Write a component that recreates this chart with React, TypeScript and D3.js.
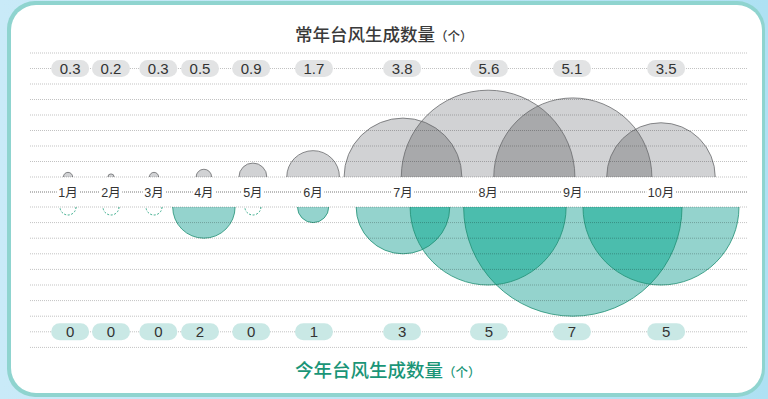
import React, { useEffect, useRef } from 'react';
import * as d3 from 'd3';

// data
const months = ['1月', '2月', '3月', '4月', '5月', '6月', '7月', '8月', '9月', '10月'];
const normalCounts = [0.3, 0.2, 0.3, 0.5, 0.9, 1.7, 3.8, 5.6, 5.1, 3.5];
const thisYearCounts = [0, 0, 0, 2, 0, 1, 3, 5, 7, 5];
const normalLabels = ['0.3', '0.2', '0.3', '0.5', '0.9', '1.7', '3.8', '5.6', '5.1', '3.5'];
const thisYearLabels = ['0', '0', '0', '2', '0', '1', '3', '5', '7', '5'];
const topTitle = '常年台风生成数量';
const bottomTitle = '今年台风生成数量';
const unitText = '（个）';

// layout: horizontal slot of each month (months are spaced unevenly)
const monthSlot = [0, 1, 2, 3.16, 4.3, 5.7, 7.79, 9.77, 11.74, 13.79];
const pillSlot = [0.05, 1, 2.1, 3.07, 4.26, 5.72, 7.77, 9.79, 11.72, 13.91];

const W = 768;
const H = 399;
const FONT = "'Liberation Sans', 'Noto Sans CJK SC', sans-serif";
const CJK = "'Noto Sans CJK SC', sans-serif";

export default function App() {
    const ref = useRef<SVGSVGElement>(null);

    useEffect(() => {
        draw(ref.current as SVGSVGElement);
    }, []);

    return (
        <svg ref={ref} width={W} height={H} style={{ position: 'absolute', left: 0, top: 0 }} />
    );
}

const draw = (node: SVGSVGElement) => {
    const svg = d3.select(node);
    svg.selectAll('*').remove();

    const x = d3.scaleLinear().domain([0, 1]).range([68, 111]);
    const yTop = d3.scaleLinear().domain([0, 8]).range([177, 53]);
    const yBot = d3.scaleLinear().domain([0, 9]).range([207, 347.4]);
    const rTop = (v: number) => yTop(0) - yTop(v);
    const rBot = (v: number) => yBot(v) - yBot(0);
    const gridX0 = 30;
    const gridX1 = 747;

    const defs = svg.append('defs');
    const grad = defs.append('linearGradient').attr('id', 'bg').attr('x1', 0).attr('x2', 1).attr('y1', 0).attr('y2', 0);
    grad.append('stop').attr('offset', '0%').attr('stop-color', '#c9eaf8');
    grad.append('stop').attr('offset', '100%').attr('stop-color', '#aee1f3');

    defs.append('clipPath').attr('id', 'clip-top')
        .append('rect').attr('x', 0).attr('y', 0).attr('width', W).attr('height', yTop(0));
    defs.append('clipPath').attr('id', 'clip-bot')
        .append('rect').attr('x', 0).attr('y', yBot(0)).attr('width', W).attr('height', H - yBot(0));

    months.forEach((m, i) => {
        defs.append('clipPath').attr('id', 'ct-' + i)
            .append('circle').attr('cx', x(monthSlot[i])).attr('cy', yTop(0)).attr('r', rTop(normalCounts[i]));
        defs.append('clipPath').attr('id', 'cb-' + i)
            .append('circle').attr('cx', x(monthSlot[i])).attr('cy', yBot(0)).attr('r', rBot(thisYearCounts[i]));
    });

    // background + card
    svg.append('rect').attr('width', W).attr('height', H).attr('fill', 'url(#bg)');
    svg.append('rect').attr('x', 7).attr('y', 1).attr('width', 758).attr('height', 396).attr('rx', 28)
        .attr('fill', '#8fd4cf');
    svg.append('rect').attr('x', 11).attr('y', 5).attr('width', 751).attr('height', 388).attr('rx', 25)
        .attr('fill', '#ffffff');

    // upper (normal year) half circles
    const gTop = svg.append('g').attr('clip-path', 'url(#clip-top)');
    gTop.selectAll('circle.fill')
        .data(normalCounts)
        .enter()
        .append('circle')
        .attr('class', 'fill')
        .attr('cx', (d, i) => x(monthSlot[i]))
        .attr('cy', yTop(0))
        .attr('r', d => rTop(d))
        .attr('fill', '#d1d2d4');
    normalCounts.forEach((d, i) => {
        if (i === 0) return;
        const dist = x(monthSlot[i]) - x(monthSlot[i - 1]);
        if (dist < rTop(d) + rTop(normalCounts[i - 1])) {
            gTop.append('g').attr('clip-path', `url(#ct-${i - 1})`)
                .append('circle')
                .attr('cx', x(monthSlot[i]))
                .attr('cy', yTop(0))
                .attr('r', rTop(d))
                .attr('fill', '#a8a9ab');
        }
    });
    gTop.selectAll('circle.edge')
        .data(normalCounts)
        .enter()
        .append('circle')
        .attr('class', 'edge')
        .attr('cx', (d, i) => x(monthSlot[i]))
        .attr('cy', yTop(0))
        .attr('r', d => rTop(d))
        .attr('fill', 'none')
        .attr('stroke', '#6a6b6d')
        .attr('stroke-width', 0.8);

    // lower (this year) half circles
    const gBot = svg.append('g').attr('clip-path', 'url(#clip-bot)');
    gBot.selectAll('circle.fill')
        .data(thisYearCounts)
        .enter()
        .append('circle')
        .attr('class', 'fill')
        .attr('cx', (d, i) => x(monthSlot[i]))
        .attr('cy', yBot(0))
        .attr('r', d => rBot(d))
        .attr('fill', '#94d3cd');
    thisYearCounts.forEach((d, i) => {
        if (i === 0 || d === 0 || thisYearCounts[i - 1] === 0) return;
        const dist = x(monthSlot[i]) - x(monthSlot[i - 1]);
        if (dist < rBot(d) + rBot(thisYearCounts[i - 1])) {
            gBot.append('g').attr('clip-path', `url(#cb-${i - 1})`)
                .append('circle')
                .attr('cx', x(monthSlot[i]))
                .attr('cy', yBot(0))
                .attr('r', rBot(d))
                .attr('fill', '#4bbdad');
        }
    });
    gBot.selectAll('circle.edge')
        .data(thisYearCounts)
        .enter()
        .append('circle')
        .attr('class', 'edge')
        .attr('cx', (d, i) => x(monthSlot[i]))
        .attr('cy', yBot(0))
        .attr('r', d => (d === 0 ? 8 : rBot(d)))
        .attr('fill', 'none')
        .attr('stroke', d => (d === 0 ? '#3aac8c' : '#1f8f74'))
        .attr('stroke-width', d => (d === 0 ? 1 : 0.8))
        .attr('stroke-dasharray', d => (d === 0 ? '2,1.6' : null));

    // dotted grid lines, drawn over the circles
    const gridYs = d3.range(0, 9).map(t => yTop(t)).concat(d3.range(0, 10).map(t => yBot(t)));
    svg.append('g')
        .selectAll('line')
        .data(gridYs)
        .enter()
        .append('line')
        .attr('x1', gridX0)
        .attr('x2', gridX1)
        .attr('y1', d => d)
        .attr('y2', d => d)
        .attr('stroke', 'rgba(0,0,0,0.3)')
        .attr('stroke-width', 0.8)
        .attr('stroke-dasharray', '1,1');

    // month axis
    const axisY = (yTop(0) + yBot(0)) / 2;
    svg.append('line')
        .attr('x1', gridX0).attr('x2', gridX1)
        .attr('y1', axisY).attr('y2', axisY)
        .attr('stroke', '#555')
        .attr('stroke-width', 0.8)
        .attr('stroke-dasharray', '1,1');
    const labels = svg.append('g');
    months.forEach((m, i) => {
        const bg = labels.append('rect').attr('fill', '#fff');
        const t = labels.append('text')
            .text(m)
            .attr('x', x(monthSlot[i]))
            .attr('y', axisY + 4.5)
            .attr('text-anchor', 'middle')
            .attr('font-family', FONT)
            .attr('font-size', 12.5)
            .attr('fill', '#333');
        const w = (t.node() as SVGTextElement).getComputedTextLength();
        bg.attr('x', x(monthSlot[i]) - w / 2 - 1.5).attr('y', axisY - 6).attr('width', w + 3).attr('height', 12);
    });

    // value pills
    const pills = (vals: string[], cy: number, fill: string) => {
        const g = svg.append('g');
        g.selectAll('rect')
            .data(vals)
            .enter()
            .append('rect')
            .attr('x', (d, i) => x(pillSlot[i]) - 19)
            .attr('y', cy - 8.5)
            .attr('width', 38)
            .attr('height', 17)
            .attr('rx', 8.5)
            .attr('fill', fill);
        g.selectAll('text')
            .data(vals)
            .enter()
            .append('text')
            .text(d => d)
            .attr('x', (d, i) => x(pillSlot[i]))
            .attr('y', cy + 5.3)
            .attr('text-anchor', 'middle')
            .attr('font-family', FONT)
            .attr('font-size', 15)
            .attr('fill', '#333');
    };
    pills(normalLabels, yTop(7), '#e2e3e4');
    pills(thisYearLabels, yBot(8), '#c9e8e5');

    // titles
    const t1 = svg.append('text').attr('x', 295).attr('y', 41)
        .attr('font-family', CJK).attr('fill', '#3a3a3a').attr('font-weight', 500);
    t1.append('tspan').text(topTitle).attr('font-size', 17.5);
    t1.append('tspan').text(unitText).attr('font-size', 12.5);

    const t2 = svg.append('text').attr('x', 295).attr('y', 377)
        .attr('font-family', CJK).attr('fill', '#1a9577').attr('font-weight', 500);
    t2.append('tspan').text(bottomTitle).attr('font-size', 18.5);
    t2.append('tspan').text(unitText).attr('font-size', 12.5);
};
